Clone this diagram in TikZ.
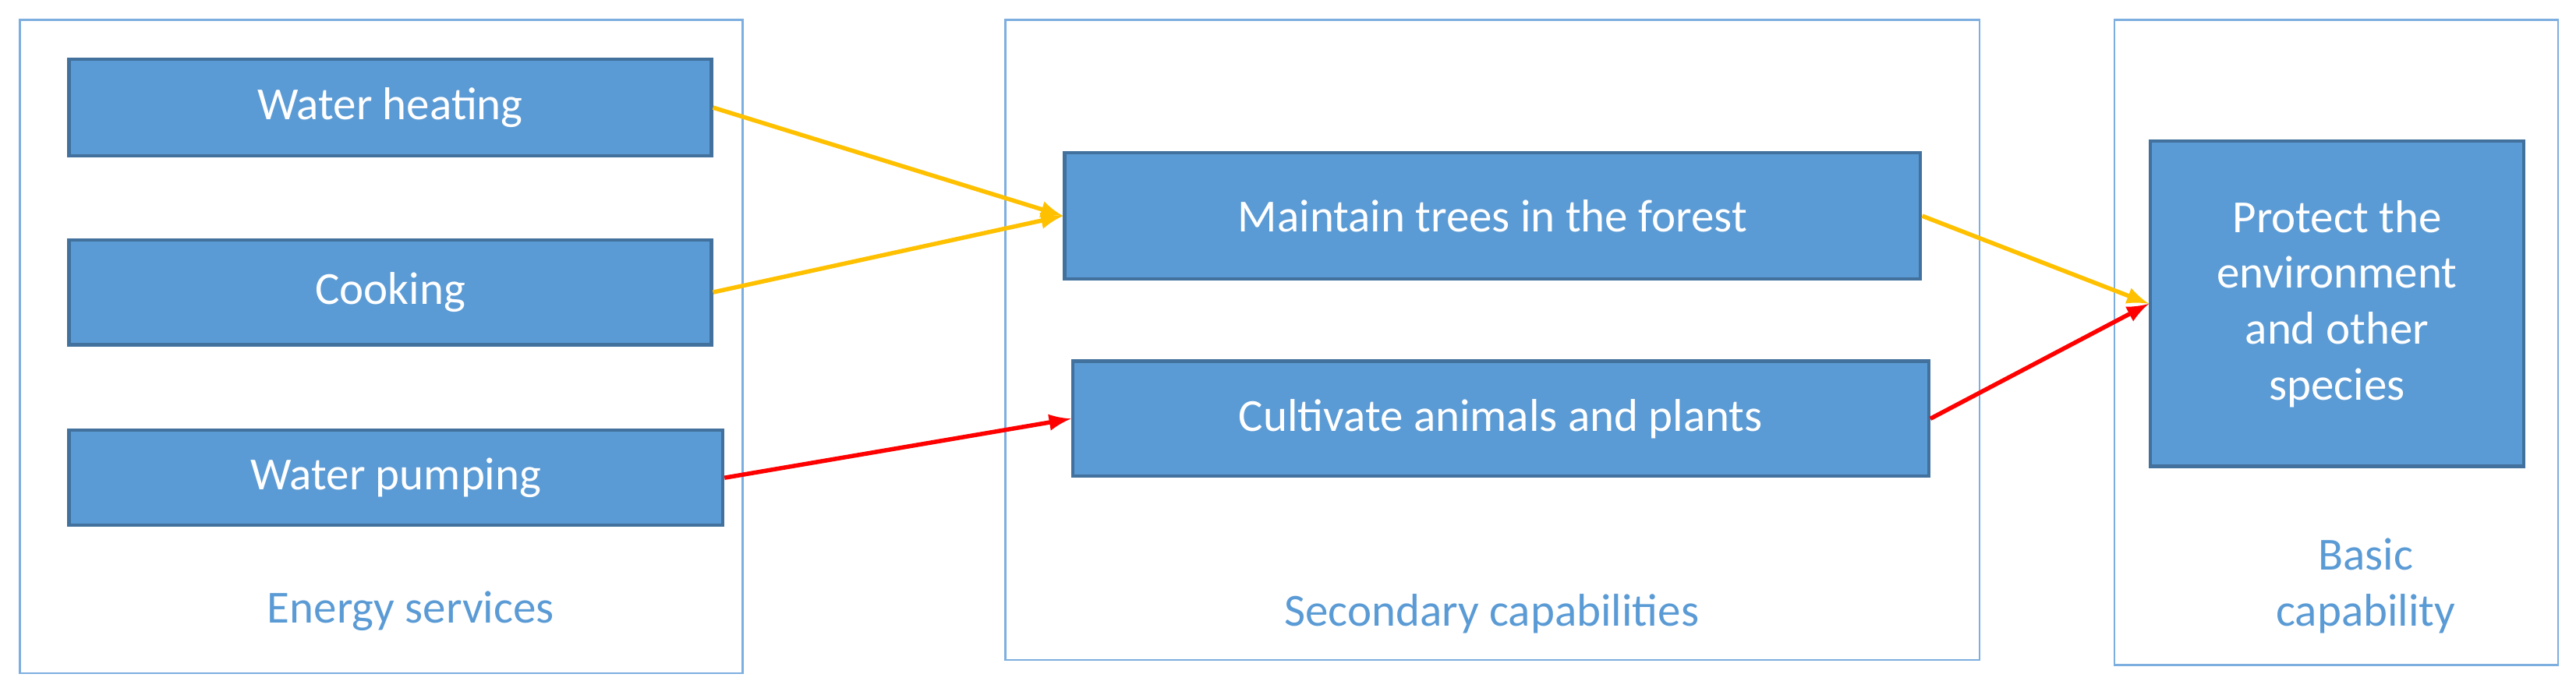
\documentclass[tikz,border=0pt]{standalone}
\usepackage{fontspec}
\setmainfont{Carlito}
\begin{document}
\begin{tikzpicture}[x=0.5pt,y=-0.5pt,
  frame/.style={draw=frameblue,line width=0.6pt},
  box/.style={draw=boxedge,fill=boxblue,line width=1pt,text=white,font=\fontsize{14}{17}\selectfont,align=center},
  lab/.style={text=boxblue,font=\fontsize{14}{17}\selectfont,align=center},
  ya/.style={draw=arrowyellow,line width=1.3pt,-latex},
  ra/.style={draw=red,line width=1.3pt,-latex}]
\definecolor{boxblue}{HTML}{5B9BD5}
\definecolor{boxedge}{HTML}{41719C}
\definecolor{frameblue}{HTML}{7DAEE0}
\definecolor{arrowyellow}{HTML}{FFC000}
\useasboundingbox (0,0) rectangle (1568,419);
\draw[frame] (12,12) rectangle (452,410);
\draw[frame] (612,12) rectangle (1205,402);
\draw[frame] (1287,12) rectangle (1557,405);
\node[box,minimum width=195.5pt,minimum height=29.5pt] (wh) at (237.5,65.5) {Water heating};
\node[box,minimum width=195.5pt,minimum height=32pt] (ck) at (237.5,178) {Cooking};
\node[box,minimum width=199pt,minimum height=29pt] (wp) at (241,291) {Water pumping};
\node[box,minimum width=260.5pt,minimum height=38.5pt] (mt) at (908.5,131.5) {Maintain trees in the forest};
\node[box,minimum width=260.5pt,minimum height=35pt] (cu) at (913.5,255) {Cultivate animals and plants};
\node[box,minimum width=113.5pt,minimum height=99pt] (pr) at (1422.5,185) {Protect the\\environment\\and other\\species};
\node[lab] (es) at (250,372) {Energy services};
\node[lab] (sc) at (908,374) {Secondary capabilities};
\node[lab] (bc) at (1440,357) {Basic\\capability};
\draw[ya] (wh.east) -- (mt.west);
\draw[ya] (ck.east) -- (mt.west);
\draw[ra] (wp.east) -- (cu.west);
\draw[ya] (mt.east) -- (pr.west);
\draw[ra] (cu.east) -- (pr.west);
\end{tikzpicture}
\end{document}
